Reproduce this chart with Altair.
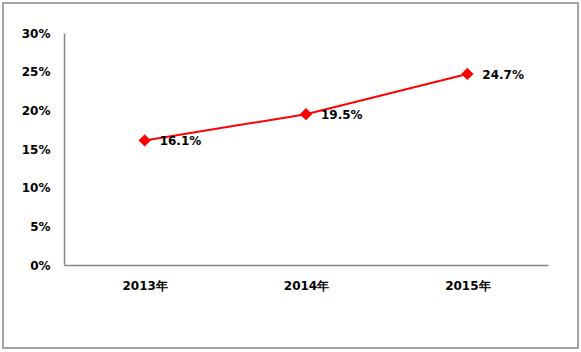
import altair as alt
import pandas as pd

years = ["2013年", "2014年", "2015年"]
values = [0.161, 0.195, 0.247]
labels = ["16.1%", "19.5%", "24.7%"]
y_ticks = [0, 0.05, 0.10, 0.15, 0.20, 0.25, 0.30]

df = pd.DataFrame({"year": years, "value": values, "label": labels})

FONT = "DejaVu Sans"

x_enc = alt.X("year:O", sort=years, title=None,
              scale=alt.Scale(padding=0.5),
              axis=alt.Axis(labelAngle=0, ticks=False, domainColor="#868686",
                            labelFont=FONT, labelFontSize=12, labelFontWeight="bold",
                            labelColor="#000000", labelPadding=15, domainWidth=1.5))
y_enc = alt.Y("value:Q", title=None,
              scale=alt.Scale(domain=[0, 0.3], nice=False, zero=True),
              axis=alt.Axis(values=y_ticks, format=".0%", grid=False, ticks=False,
                            domainColor="#868686", labelFont=FONT, labelFontSize=12,
                            labelFontWeight="bold", labelColor="#000000",
                            labelPadding=14, domainWidth=1.5))

base = alt.Chart(df)

line = base.mark_line(color="#FF0000", strokeWidth=2).encode(x=x_enc, y=y_enc)
points = base.mark_point(shape="diamond", filled=True, color="#FF0000", size=150,
                         opacity=1).encode(x=x_enc, y=y_enc)
text = base.mark_text(align="left", baseline="middle", dx=15, dy=1, font=FONT,
                      fontSize=12, fontWeight="bold", color="#000000").encode(
    x=x_enc, y=y_enc, text="label:N")

border = alt.Chart(pd.DataFrame({"b": [0]})).mark_rect(
    fill=None, stroke="#868686", strokeWidth=1.5).encode(
    x=alt.value(-61), x2=alt.value(514), y=alt.value(-30), y2=alt.value(315))

chart = alt.layer(border, line, points, text).properties(
    width=484, height=232,
    autosize=alt.AutoSizeParams(type="none"),
    padding={"left": 64, "top": 33, "right": 33, "bottom": 87},
    background="#FFFFFF",
).configure_view(stroke=None)

chart.save("out.html", embed_options={"renderer": "svg", "actions": False})
